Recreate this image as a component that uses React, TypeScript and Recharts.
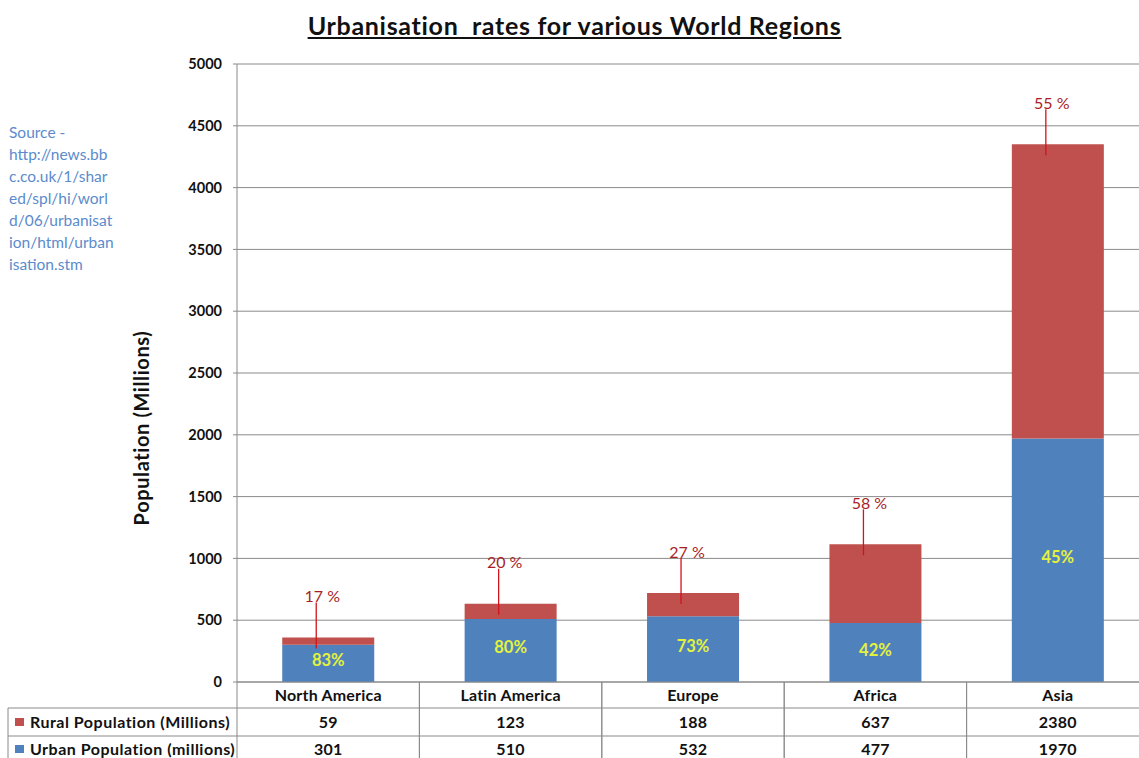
import React from 'react';
import { BarChart, Bar, XAxis, YAxis, CartesianGrid, LabelList } from 'recharts';

const regions = ['North America', 'Latin America', 'Europe', 'Africa', 'Asia'];
const ruralValues = [59, 123, 188, 637, 2380];
const urbanValues = [301, 510, 532, 477, 1970];
const ruralPctLabels = ['17 %', '20 %', '27 %', '58 %', '55 %'];
const urbanPctLabels = ['83%', '80%', '73%', '42%', '45%'];
const yTicks = [0, 500, 1000, 1500, 2000, 2500, 3000, 3500, 4000, 4500, 5000];
const seriesNames = ['Rural Population (Millions)', 'Urban Population (millions)'];
const sourceLines = ['Source -', 'http://news.bb', 'c.co.uk/1/shar', 'ed/spl/hi/worl', 'd/06/urbanisat', 'ion/html/urban', 'isation.stm'];
const titleText = 'Urbanisation\u00a0\u00a0rates for various World Regions';
const yAxisTitle = 'Population (Millions)';

const data = regions.map((name, i) => ({
  name,
  urban: urbanValues[i],
  rural: ruralValues[i],
  urbanPct: urbanPctLabels[i],
  ruralPct: ruralPctLabels[i],
}));

const BLUE = '#4F81BD';
const RED = '#C0504D';
const GRID = '#8a8a8a';
const FONT = 'Lato, "Open Sans", sans-serif';

const CHART_W = 1150;
const CHART_H = 766;
const Y_AXIS_W = 237;
const MARGIN = { top: 64, right: 1, bottom: 0, left: 0 };
const PLOT_W = CHART_W - Y_AXIS_W - MARGIN.right - MARGIN.left;
const BAND = PLOT_W / regions.length;
const ROWS = [26, 54, 82];
const TABLE_FONT = 16;

function TableTick(props: any) {
  const { x, y, payload } = props;
  const i = payload.index;
  const l = x - BAND / 2;
  const r = x + BAND / 2;
  const lineStyle = { stroke: GRID, strokeWidth: 1 };
  const txt = { fontFamily: FONT, fontWeight: 700, fontSize: TABLE_FONT, fill: '#111', letterSpacing: 0.2 } as any;
  return (
    <g>
      <line x1={l} y1={y} x2={l} y2={y + ROWS[2]} style={lineStyle} />
      <line x1={r} y1={y} x2={r} y2={y + ROWS[2]} style={lineStyle} />
      <line x1={l} y1={y + ROWS[0]} x2={r} y2={y + ROWS[0]} style={lineStyle} />
      <line x1={l} y1={y + ROWS[1]} x2={r} y2={y + ROWS[1]} style={lineStyle} />
      <line x1={l} y1={y + ROWS[2]} x2={r} y2={y + ROWS[2]} style={lineStyle} />
      <text x={x} y={y + 12} textAnchor="middle" dominantBaseline="central" style={txt}>
        {regions[i]}
      </text>
      <text x={x} y={y + 39} textAnchor="middle" dominantBaseline="central" style={txt}>
        {ruralValues[i]}
      </text>
      <text x={x} y={y + 66} textAnchor="middle" dominantBaseline="central" style={txt}>
        {urbanValues[i]}
      </text>
      {i === 0 && (
        <g>
          <line x1={8} y1={y + ROWS[0]} x2={l} y2={y + ROWS[0]} style={lineStyle} />
          <line x1={8} y1={y + ROWS[1]} x2={l} y2={y + ROWS[1]} style={lineStyle} />
          <line x1={8} y1={y + ROWS[2]} x2={l} y2={y + ROWS[2]} style={lineStyle} />
          <line x1={8} y1={y + ROWS[0]} x2={8} y2={y + ROWS[2]} style={lineStyle} />
          <rect x={15} y={y + 36} width={9} height={8} fill={RED} />
          <text x={30} y={y + 39} dominantBaseline="central" style={{ ...txt, letterSpacing: 0.5 }}>
            {seriesNames[0]}
          </text>
          <rect x={15} y={y + 63} width={9} height={8} fill={BLUE} />
          <text x={30} y={y + 66} dominantBaseline="central" style={{ ...txt, letterSpacing: 0.5 }}>
            {seriesNames[1]}
          </text>
        </g>
      )}
    </g>
  );
}

function RuralLabel(props: any) {
  const vb = props.viewBox || {};
  const x = props.x ?? vb.x;
  const y = props.y ?? vb.y;
  const width = props.width ?? vb.width;
  const cx = x + width / 2;
  return (
    <g>
      <line x1={cx - 12} y1={y + 11} x2={cx - 12} y2={y - 35} stroke="#D0141C" strokeWidth={1.3} />
      <text x={cx - 6} y={y - 42} textAnchor="middle" dominantBaseline="central" fontFamily={FONT} fontSize={16} fill="#A81E25">
        {props.value}
      </text>
    </g>
  );
}

function UrbanLabel(props: any) {
  const vb = props.viewBox || {};
  const x = props.x ?? vb.x;
  const y = props.y ?? vb.y;
  const width = props.width ?? vb.width;
  const height = props.height ?? vb.height;
  const cx = x + width / 2;
  return (
    <text x={cx} y={y + height / 2 - 3} textAnchor="middle" dominantBaseline="central" fontFamily={FONT} fontWeight={700} fontSize={16.5} fill="#E4F23C">
      {props.value}
    </text>
  );
}

function YTitle() {
  return (
    <text x={141} y={428} transform="rotate(-90 141 428)" textAnchor="middle" dominantBaseline="central" fontFamily={FONT} fontWeight={700} fontSize={20} letterSpacing={0.6} fill="#111">
      {yAxisTitle}
    </text>
  );
}

export default function App() {
  return (
    <div style={{ position: 'absolute', left: 0, top: 0, width: 1139, height: 758, overflow: 'hidden', background: '#fff' }}>
      <div
        style={{
          position: 'absolute', left: 0, width: 1149, top: 10, textAlign: 'center',
          fontFamily: FONT, fontWeight: 700, fontSize: 25, letterSpacing: 0.7, textDecoration: 'underline', color: '#111', zIndex: 2,
        }}
      >
        {titleText}
      </div>
      <div
        style={{
          position: 'absolute', left: 9, top: 121, fontFamily: FONT, fontSize: 15.5, lineHeight: '22px', color: '#5B8BCC', zIndex: 2,
        }}
      >
        {sourceLines.map((s, i) => (
          <div key={i}>{s}</div>
        ))}
      </div>
      <BarChart width={CHART_W} height={CHART_H} data={data} margin={MARGIN} barCategoryGap="24.8%">
        <CartesianGrid horizontal vertical={false} stroke={GRID} strokeWidth={1} />
        <XAxis
          dataKey="name"
          height={CHART_H - MARGIN.top - 618}
          tickLine={false}
          tickSize={0}
          tickMargin={0}
          axisLine={{ stroke: GRID }}
          tick={<TableTick />}
          interval={0}
        />
        <YAxis
          width={Y_AXIS_W}
          domain={[0, 5000]}
          ticks={yTicks}
          interval={0}
          tickSize={4}
          tickMargin={11}
          axisLine={{ stroke: GRID }}
          tickLine={{ stroke: GRID }}
          tick={{ fontFamily: FONT, fontWeight: 700, fontSize: 14.5, fill: '#111' }}
          label={<YTitle />}
        />
        <Bar dataKey="urban" stackId="a" fill={BLUE} isAnimationActive={false}>
          <LabelList dataKey="urbanPct" content={<UrbanLabel />} />
        </Bar>
        <Bar dataKey="rural" stackId="a" fill={RED} isAnimationActive={false}>
          <LabelList dataKey="ruralPct" content={<RuralLabel />} />
        </Bar>
      </BarChart>
    </div>
  );
}
